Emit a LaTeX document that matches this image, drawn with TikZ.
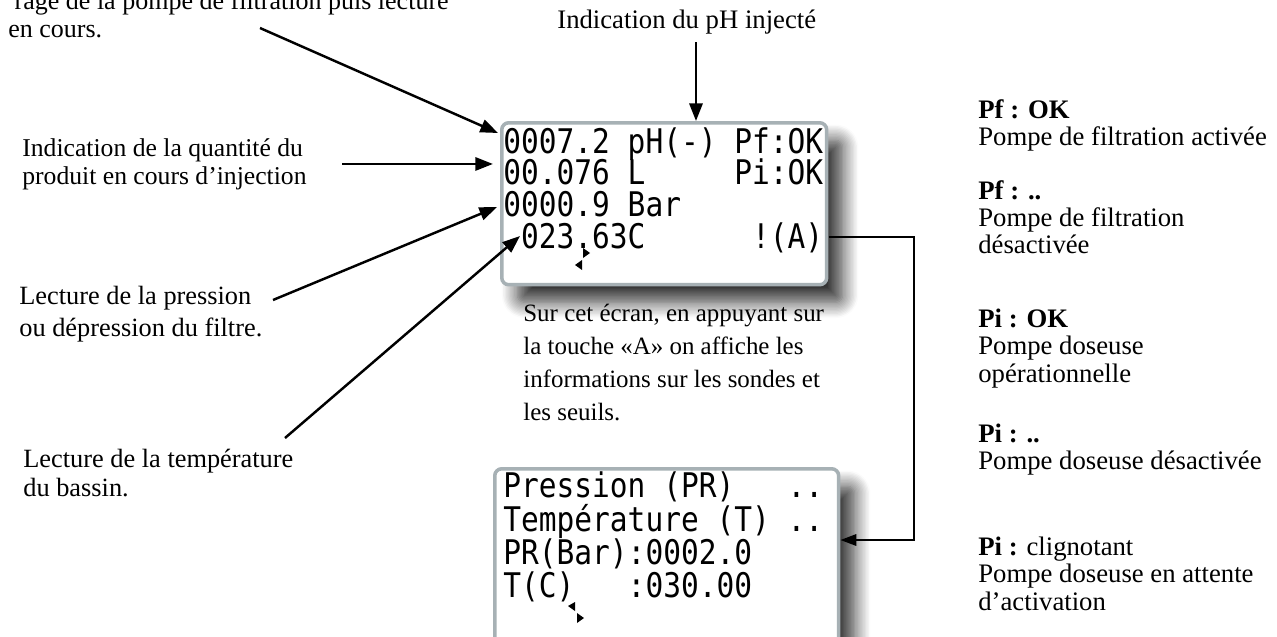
\documentclass[tikz,border=0pt]{standalone}
\usepackage{fontspec}
\setmainfont{Liberation Serif}
\newfontfamily\lcdfont{DejaVu Sans Mono}
\usetikzlibrary{arrows.meta,positioning,shadows.blur}
\definecolor{framegray}{HTML}{A7B1B5}
\newcommand{\lcd}[1]{\scalebox{1}[1.15]{#1}}

\begin{document}
\begin{tikzpicture}[x=0.02cm, y=-0.02cm,
    txt/.style={inner sep=0pt, anchor=north west, align=left},
    screen/.style={draw=framegray, line width=2pt, fill=white, rounded corners=4pt,
        anchor=north west, inner sep=0pt,
        blur shadow={shadow xshift=9pt, shadow yshift=-10pt, shadow blur radius=9pt,
            shadow blur steps=12, shadow opacity=80}},
    lcdline/.style={inner sep=0pt, anchor=base west, font=\lcdfont\fontsize{16.8}{16.8}\selectfont},
    pointer/.style={-{Triangle[length=10pt,width=7.5pt]}, line width=1.4pt},
    link/.style={-{Triangle[length=9pt,width=6.5pt]}, line width=1.1pt}]
    \useasboundingbox (0,0) rectangle (1277,636);
    \clip (0,0) rectangle (1277,636);

    % Screens
    \node[screen, minimum width=6.5cm, minimum height=3.24cm] (scr1) at (500,121) {};
    \node[screen, minimum width=6.88cm, minimum height=4cm] (scr2) at (493,467) {};

    % First screen
    \node[lcdline] (s1l1) at (503,153) {\lcd{0007.2~pH(-)~Pf:OK}};
    \node[lcdline] (s1l2) at (503,184) {\lcd{00.076~L~~~~~Pi:OK}};
    \node[lcdline] (s1l3) at (503,216) {\lcd{0000.9~Bar}};
    \node[lcdline] (s1l4) at (503,248) {\lcd{~023.63C~~~~~~!(A)}};
    \fill (583,248) -- (590,253) -- (583,258) -- cycle;
    \fill (582,260) -- (575,265) -- (582,270) -- cycle;

    % Second screen
    \node[lcdline] (s2l1) at (503,497) {\lcd{Pression~(PR)~~~..}};
    \node[lcdline] (s2l2) at (503,531) {\lcd{Température~(T)~..}};
    \node[lcdline] (s2l3) at (503,564) {\lcd{PR(Bar):0002.0}};
    \node[lcdline] (s2l4) at (503,597) {\lcd{T(C)~~~:030.00}};
    \fill (575,602) -- (568,606) -- (575,611) -- cycle;
    \fill (577,613) -- (584,618) -- (577,623) -- cycle;

    % Labels on the left
    \node[txt, anchor=base east, font=\fontsize{14.8}{14.8}\selectfont] (intro1) at (449,9) {rage de la pompe de filtration puis lecture};
    \node[txt, anchor=base west, font=\fontsize{14.8}{14.8}\selectfont] (intro2) at (8,37) {en cours.};
    \node[txt, anchor=base west, font=\fontsize{15.2}{15.2}\selectfont] (ph) at (557,28) {Indication du pH injecté};
    \node[txt, font=\fontsize{14.6}{15.9}\selectfont] (qty) at (22,138) {Indication de la quantité du\\produit en cours d’injection};
    \node[txt, font=\fontsize{15}{18.1}\selectfont] (pres) at (19,286) {Lecture de la pression\\ou dépression du filtre.};
    \node[txt, font=\fontsize{15}{16.2}\selectfont] (temp) at (23,449) {Lecture de la température\\du bassin.};
    \node[txt, font=\fontsize{14.2}{18.7}\selectfont] (info) at (523,304) {Sur cet écran, en appuyant sur\\la touche «A» on affiche les\\informations sur les sondes et\\les seuils.};

    % Legend on the right
    \node[txt, font=\fontsize{15.2}{15.4}\selectfont] (pfok) at (978,99) {\textbf{Pf : OK}\\Pompe de filtration activée};
    \node[txt, font=\fontsize{15.2}{15.4}\selectfont] (pfno) at (978,180) {\textbf{Pf : ..}\\Pompe de filtration\\désactivée};
    \node[txt, font=\fontsize{15.2}{15.4}\selectfont] (piok) at (978,309) {\textbf{Pi : OK}\\Pompe doseuse\\opérationnelle};
    \node[txt, font=\fontsize{15.2}{15.4}\selectfont] (pino) at (978,424) {\textbf{Pi : ..}\\Pompe doseuse désactivée};
    \node[txt, font=\fontsize{15.2}{15.4}\selectfont] (piwait) at (978,537) {\textbf{Pi :} clignotant\\Pompe doseuse en attente\\d’activation};

    % Arrows
    \coordinate (c1) at (260,28);
    \coordinate (t1) at (498,133);
    \coordinate (c2) at (696,42);
    \coordinate (c4) at (273,300);
    \coordinate (t4) at (497,207);
    \coordinate (c5) at (285,438);
    \coordinate (t5) at (520,236);
    \coordinate (turn) at (914,540);
    \draw[pointer] (c1) -- (t1);
    \draw[pointer] (c2) -- (c2 |- scr1.north);
    \draw[pointer] ([xshift=20pt]qty.east) -- ([xshift=-4pt]qty.east -| scr1.west);
    \draw[pointer] (c4) -- (t4);
    \draw[pointer] (c5) -- (t5);
    \draw[link] ([xshift=3pt]s1l4.east) -| (turn) -- (turn -| scr2.east);
\end{tikzpicture}
\end{document}
